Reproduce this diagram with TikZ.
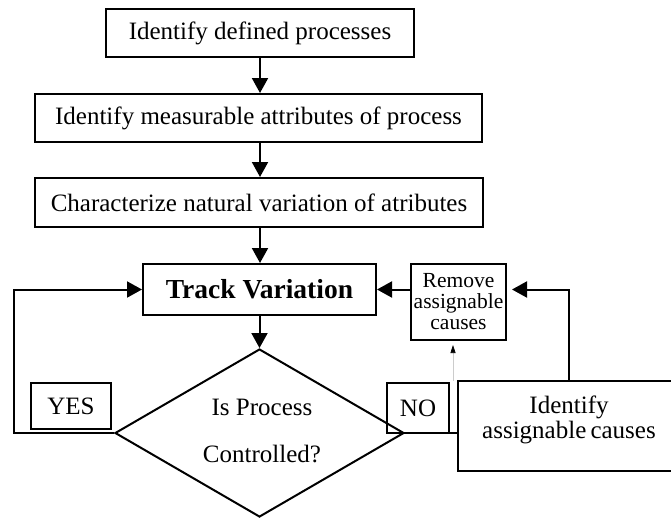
\documentclass[tikz,border=0pt]{standalone}
\usepackage{fontspec}
\setmainfont{Liberation Serif}
\usetikzlibrary{shapes.geometric,arrows.meta}
\tikzset{
  box/.style={draw, line width=2pt, inner sep=0pt, font=\fontsize{25}{27}\selectfont},
  conn/.style={line width=2pt},
  arr/.style={conn, -{Triangle[length=15pt,width=16pt]}},
}
\begin{document}
\begin{tikzpicture}[x=1pt,y=-1pt]
\useasboundingbox (0,0) rectangle (671,517);
\node[box, minimum width=308pt, minimum height=48pt] (b1) at (260,33) {Identify defined processes};
\node[box, minimum width=447pt, minimum height=48pt] (b2) at (258.5,118) {Identify measurable attributes of process};
\node[box, minimum width=448pt, minimum height=49pt] (b3) at (259,202.5) {Characterize natural variation of atributes};
\node[box, minimum width=233pt, minimum height=51pt, font=\fontsize{27.5}{29}\selectfont\bfseries] (track) at (259.5,289.5) {Track Variation};
\node[box, minimum width=95pt, minimum height=76pt, align=center, font=\fontsize{21.5}{21}\selectfont] (remove) at (458.5,302) {Remove\\assignable\\causes};
\node[box, shape=diamond, minimum width=289pt, minimum height=168pt] (dia) at (259.5,433) {};
\node[align=center, font=\fontsize{25}{47}\selectfont] (diatxt) at (262,431) {Is Process\\Controlled?};
\node[box, minimum width=80pt, minimum height=46pt] (yes) at (71,406) {YES};
\node[box, minimum width=62pt, minimum height=50pt] (no) at (418,408) {NO};
\node[box, minimum width=222pt, minimum height=90pt] (ident) at (569,426) {};
\node[align=center, font=\fontsize{25}{25}\selectfont] (identtxt) at (569,420) {Identify\\assignable\,causes};
\coordinate (lc) at (14,433);
\coordinate (fa) at (453,381);
\coordinate (fb) at (453,345);
\draw[arr] (b1.south) -- (b1.south |- b2.north);
\draw[arr] (b1.south |- b2.south) -- (b1.south |- b3.north);
\draw[arr] (b1.south |- b3.south) -- (b1.south |- track.north);
\draw[arr] (track.south) -- (dia.north);
\draw[arr] (dia.west) -- (lc) |- (track.west);
\draw[conn] (dia.east) -- (dia.east -| ident.west);
\draw[arr] (remove.west |- track.east) -- (track.east);
\draw[arr, shorten >=5pt] (ident.north) |- (remove.east |- track.east);
\draw[black!20, line width=0.6pt, -{Triangle[length=8pt,width=5pt,color=black]}] (fa) -- (fb);
\end{tikzpicture}
\end{document}
